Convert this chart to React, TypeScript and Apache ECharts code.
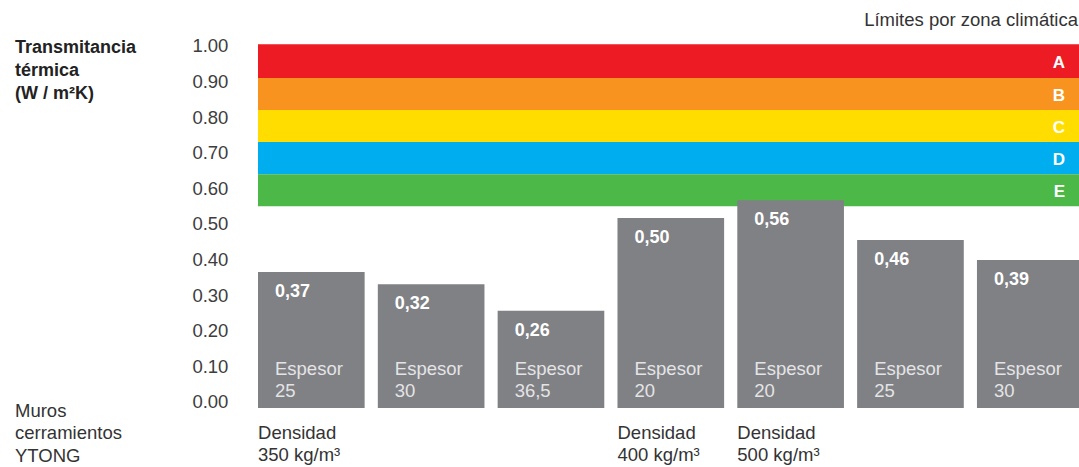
import React, { useEffect, useRef } from "react";
import * as echarts from "echarts";

// ---- data ----
const densityLabels = ["Densidad\n350 kg/m³", "", "", "Densidad\n400 kg/m³", "Densidad\n500 kg/m³", "", ""];
const thickness = ["25", "30", "36,5", "20", "20", "25", "30"];
const uLabels = ["0,37", "0,32", "0,26", "0,50", "0,56", "0,46", "0,39"];
const barHeights = [0.365, 0.331, 0.256, 0.517, 0.567, 0.455, 0.399];
const zoneLetters = ["A", "B", "C", "D", "E"];
const zoneUpper = [1.005, 0.91, 0.82, 0.73, 0.64];
const zoneLower = [0.91, 0.82, 0.73, 0.64, 0.55];
const zoneColors = ["#ED1C24", "#F7931E", "#FFDD00", "#00AEEF", "#4CB848"];
const yMin = -0.0169;
const yMax = 1.0056;

const FONT = '"Liberation Sans", Arial, sans-serif';
const FS = 18.5;

export default function App() {
  const ref = useRef<HTMLDivElement>(null);
  useEffect(() => {
    if (!ref.current) return;
    const chart = echarts.init(ref.current, undefined, { renderer: "svg" });
    const option: any = {
      animation: false,
      textStyle: { fontFamily: FONT },
      grid: [
        { left: 251.4, width: 838.8, top: 44, bottom: 59, containLabel: false, outerBoundsMode: "none" },
        { left: 258, right: 0, top: 44, bottom: 59, containLabel: false, outerBoundsMode: "none" },
      ],
      xAxis: [
        {
          type: "category",
          gridIndex: 0,
          data: densityLabels,
          axisLine: { show: false },
          axisTick: { show: false },
          axisLabel: {
            interval: 0,
            margin: 13,
            verticalAlign: "top",
            formatter: (v: string) =>
              v ? v.split("\n").map((s) => `{d|${s}}`).join("\n") : "",
            rich: {
              d: { width: 106.6, align: "left", fontSize: FS, lineHeight: 22, color: "#333", fontFamily: FONT },
            },
          },
        },
        { type: "value", gridIndex: 1, min: 0, max: 1, show: false },
      ],
      yAxis: [
        {
          type: "value",
          gridIndex: 0,
          min: yMin,
          max: yMax,
          splitNumber: 10,
          axisLine: { show: false },
          axisTick: { show: false },
          splitLine: { show: false },
          axisLabel: {
            showMinLabel: false,
            showMaxLabel: false,
            margin: 23,
            fontSize: FS,
            color: "#3d3d3d",
            fontFamily: FONT,
            formatter: (v: number) => v.toFixed(2),
          },
        },
        { type: "value", gridIndex: 1, min: yMin, max: yMax, show: false },
      ],
      series: [
        {
          type: "custom",
          xAxisIndex: 1,
          yAxisIndex: 1,
          encode: { x: 0, y: [1, 2] },
          data: zoneUpper.map((u, i) => [0.5, zoneLower[i], u]),
          renderItem: (params: any, api: any) => {
            const i = params.dataIndex;
            const p1 = api.coord([0, api.value(2)]);
            const p2 = api.coord([1, api.value(1)]);
            return {
              type: "group",
              children: [
                {
                  type: "rect",
                  shape: { x: p1[0], y: p1[1], width: p2[0] - p1[0], height: p2[1] - p1[1] },
                  style: { fill: zoneColors[i] },
                },
                {
                  type: "text",
                  x: p2[0] - 14,
                  y: (p1[1] + p2[1]) / 2 + 1,
                  style: {
                    text: zoneLetters[i],
                    fill: "#ffffff",
                    fontSize: 17,
                    fontWeight: "bold",
                    fontFamily: FONT,
                    align: "right",
                    verticalAlign: "middle",
                  },
                },
              ],
            };
          },
        },
        {
          type: "custom",
          xAxisIndex: 0,
          yAxisIndex: 0,
          encode: { x: 0, y: 1 },
          data: barHeights.map((v, i) => [i, v]),
          renderItem: (params: any, api: any) => {
            const i = params.dataIndex;
            const top = api.coord([api.value(0), api.value(1)]);
            const w = api.size([1, 0])[0] * 0.89;
            const cs = params.coordSys;
            const bottom = cs.y + cs.height;
            const left = top[0] - w / 2;
            return {
              type: "group",
              children: [
                {
                  type: "rect",
                  shape: { x: left, y: top[1], width: w, height: bottom - top[1] },
                  style: { fill: "#808185" },
                },
                {
                  type: "text",
                  x: left + 17,
                  y: top[1] + 10,
                  style: {
                    text: uLabels[i],
                    fill: "#ffffff",
                    fontSize: 18,
                    fontWeight: "bold",
                    fontFamily: FONT,
                    verticalAlign: "top",
                  },
                },
                {
                  type: "text",
                  x: left + 17,
                  y: bottom - 7,
                  style: {
                    text: "Espesor\n" + thickness[i],
                    fill: "#e4e4e6",
                    fontSize: FS,
                    lineHeight: 22,
                    fontFamily: FONT,
                    verticalAlign: "bottom",
                  },
                },
              ],
            };
          },
        },
      ],
      graphic: [
        {
          type: "text",
          left: 15,
          top: 35,
          style: {
            text: "Transmitancia\ntérmica\n(W / m²K)",
            fill: "#222",
            fontSize: 18,
            fontWeight: "bold",
            lineHeight: 23,
            fontFamily: FONT,
          },
        },
        {
          type: "text",
          left: 15,
          top: 399,
          style: {
            text: "Muros\ncerramientos\nYTONG",
            fill: "#333",
            fontSize: FS,
            lineHeight: 22.5,
            fontFamily: FONT,
          },
        },
        {
          type: "text",
          right: 1,
          top: 10,
          style: {
            text: "Límites por zona climática",
            fill: "#333",
            fontSize: FS,
            fontFamily: FONT,
          },
        },
      ],
    };
    chart.setOption(option);
    return () => chart.dispose();
  }, []);
  return (
    <div
      ref={ref}
      style={{ position: "absolute", left: 0, top: 0, width: 1079, height: 467 }}
    />
  );
}
